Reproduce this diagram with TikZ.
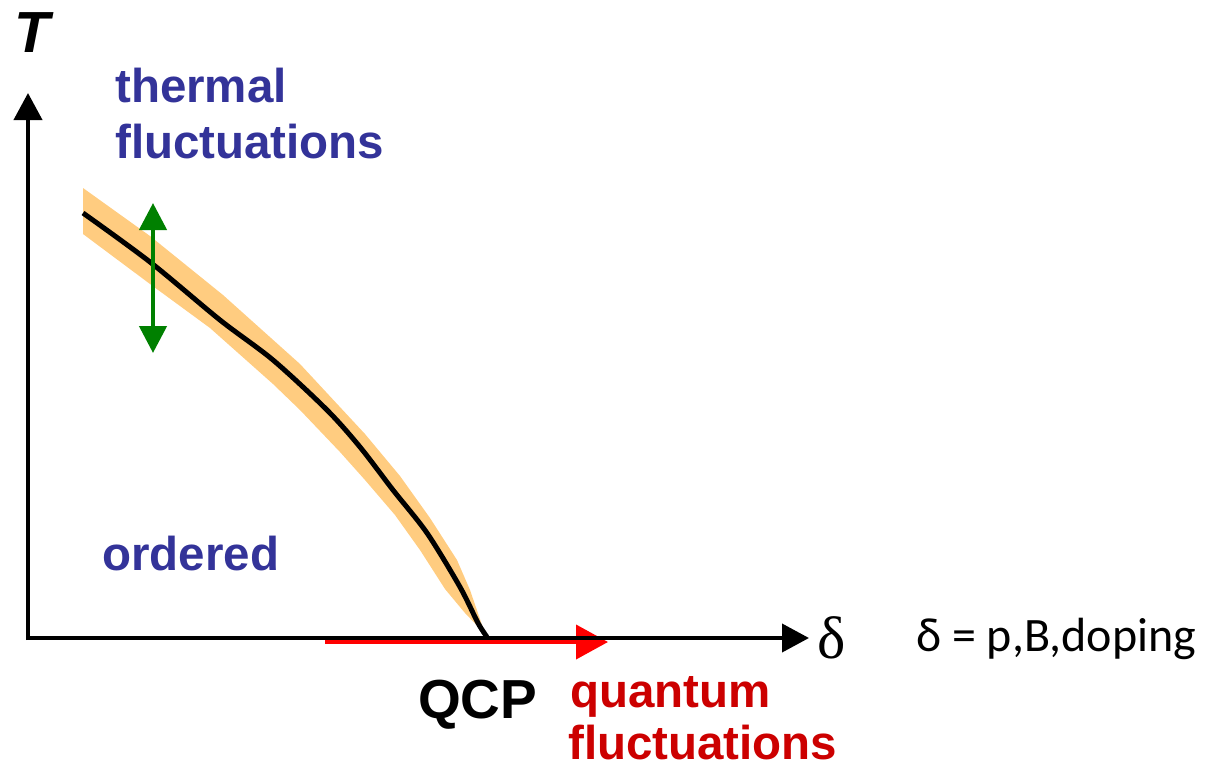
\documentclass[tikz,border=0pt]{standalone}
\usepackage{fontspec}
\setmainfont{Liberation Sans}
\newfontfamily\serifdelta{Liberation Serif}
\newfontfamily\calib{Carlito}
\usetikzlibrary{arrows.meta}
\definecolor{pblue}{RGB}{51,51,153}
\definecolor{pred}{RGB}{204,0,0}
\definecolor{pgreen}{RGB}{0,128,0}
\definecolor{band}{RGB}{255,204,128}
\begin{document}
\begin{tikzpicture}[x=1pt,y=-1pt,
  lbl/.style={inner sep=0pt,anchor=base west,font=\fontsize{47.5}{56}\selectfont\bfseries},
  axis/.style={line width=4pt,-{Triangle[length=27pt,width=28pt]}},
  tipboth/.style={line width=4.5pt,pgreen,{Triangle[length=27pt,width=27pt]}-{Triangle[length=27pt,width=27pt]}}]
\useasboundingbox (0,0) rectangle (1205,769);
% orange band
\fill[band] (83,188) -- (150,236) -- (223,295) -- (300,364) -- (365,434) -- (400,476)
  -- (430,518) -- (457,560) -- (470,590) -- (482,625) -- (487,636)
  -- (465,613) -- (445,589) -- (420,550) -- (395,515) -- (365,480) -- (340,452)
  -- (300,410) -- (273,384) -- (210,328) -- (150,284) -- (83,234) -- cycle;
% curve
\draw[line width=5pt,line join=round]
  plot[smooth,tension=0.5] coordinates {(83,213) (150,262) (220,320) (273,360) (327,410) (360,447) (393,490) (427,533) (460,587) (478,623) (487,637)};
% red arrow
\coordinate (r0) at (325,642);
\coordinate (r1) at (608,642);
\draw[red,line width=4pt,-{Triangle[length=32pt,width=34pt]}] (r0) -- (r1);
% axes
\coordinate (O) at (26,638);
\coordinate (Yb) at (28,640);
\coordinate (Yt) at (28,93);
\coordinate (Xt) at (809,638);
\draw[axis] (Yb) -- (Yt);
\draw[axis] (O) -- (Xt);
% green arrow
\coordinate (g0) at (153,203);
\coordinate (g1) at (153,353);
\draw[tipboth] (g0) -- (g1);
% labels
\node[inner sep=0pt,anchor=base west,font=\fontsize{58}{60}\selectfont\bfseries\itshape] (T) at (14,52) {T};
\node[lbl,pblue] (th1) at (115,102) {thermal};
\node[lbl,pblue] (th2) at (115,158) {fluctuations};
\node[lbl,pblue] (ord) at (102,570) {ordered};
\node[inner sep=0pt,anchor=base west,font=\fontsize{55}{60}\selectfont\bfseries] (qcp) at (418,718) {QCP};
\node[lbl,pred] (q1) at (570,707) {quantum};
\node[lbl,pred] (q2) at (568,759) {fluctuations};
\node[inner sep=0pt,anchor=base west,font=\fontsize{60}{62}\selectfont\serifdelta] (d) at (817,658) {δ};
\node[inner sep=0pt,anchor=base west,font=\fontsize{48}{56}\selectfont\calib] (def) at (916,651) {δ = p,B,doping};
\end{tikzpicture}
\end{document}
